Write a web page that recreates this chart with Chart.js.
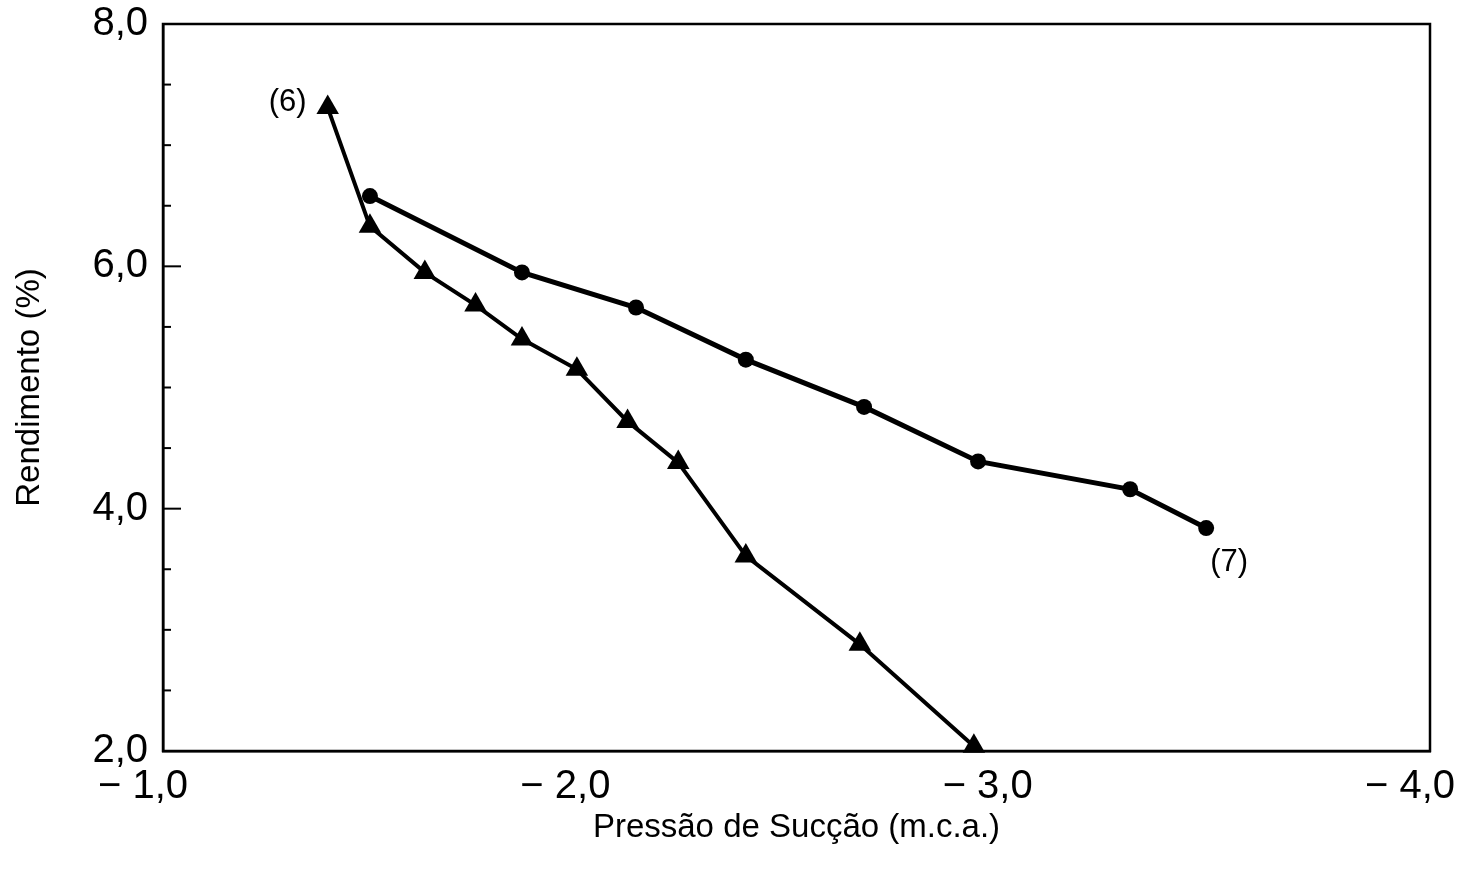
<!DOCTYPE html>
<html>
<head>
<meta charset="utf-8">
<script src="https://cdn.jsdelivr.net/npm/chart.js@4/dist/chart.umd.min.js"></script>
<style>
  html, body { margin: 0; padding: 0; background: #fff; }
  #wrap { position: relative; width: 1466px; height: 869px; }
</style>
</head>
<body>
<div id="wrap"><canvas id="c" width="1466" height="869"></canvas></div>
<script>
// ---- data ----
const triX = [-1.39, -1.49, -1.62, -1.74, -1.85, -1.98, -2.10, -2.22, -2.38, -2.65, -2.92];
const triY = [7.31, 6.33, 5.95, 5.68, 5.40, 5.15, 4.72, 4.38, 3.61, 2.88, 2.04];
const cirX = [-1.49, -1.85, -2.12, -2.38, -2.66, -2.93, -3.29, -3.47];
const cirY = [6.58, 5.95, 5.66, 5.23, 4.84, 4.39, 4.16, 3.84];
const xTickValues = [-1, -2, -3, -4];
const yLabelValues = [2, 4, 6, 8];
const xTitle = 'Pressão de Sucção (m.c.a.)';
const yTitle = 'Rendimento (%)';
const labelTri = '(6)';
const labelCir = '(7)';

const FONT = '"Liberation Sans", Arial, sans-serif';
const fmt = v => v.toFixed(1).replace('.', ',');
const pts = (xs, ys) => xs.map((x, i) => ({ x: x, y: ys[i] }));

const framePlugin = {
  id: 'frame',
  afterDatasetsDraw(chart) {
    const { ctx, chartArea: a, scales } = chart;
    const ys = scales.y;
    ctx.save();
    ctx.strokeStyle = '#000';
    ctx.lineWidth = 2.5;
    ctx.strokeRect(a.left, a.top, a.right - a.left, a.bottom - a.top);
    // inward tick marks on the left axis
    ctx.lineWidth = 2;
    ys.ticks.forEach(t => {
      const py = ys.getPixelForValue(t.value);
      const major = yLabelValues.includes(t.value);
      ctx.beginPath();
      ctx.moveTo(a.left, py);
      ctx.lineTo(a.left + (major ? 18 : 8), py);
      ctx.stroke();
    });
    // point labels
    ctx.fillStyle = '#000';
    ctx.font = '31px ' + FONT;
    ctx.textAlign = 'center';
    ctx.textBaseline = 'middle';
    const m0 = chart.getDatasetMeta(0).data[0];
    ctx.fillText(labelTri, m0.x - 40, m0.y - 5);
    const m1 = chart.getDatasetMeta(1).data[cirX.length - 1];
    ctx.fillText(labelCir, m1.x + 23, m1.y + 34);
    ctx.restore();
  }
};

new Chart(document.getElementById('c'), {
  type: 'scatter',
  data: {
    datasets: [
      {
        label: 'tri',
        data: pts(triX, triY),
        showLine: true,
        borderColor: '#000',
        backgroundColor: '#000',
        borderWidth: 4,
        pointStyle: 'triangle',
        pointRadius: 13,
        pointBorderWidth: 0,
        tension: 0,
        clip: false
      },
      {
        label: 'cir',
        data: pts(cirX, cirY),
        showLine: true,
        borderColor: '#000',
        backgroundColor: '#000',
        borderWidth: 5,
        pointStyle: 'circle',
        pointRadius: 8,
        pointBorderWidth: 0,
        tension: 0,
        clip: false
      }
    ]
  },
  options: {
    responsive: false,
    animation: false,
    devicePixelRatio: 1,
    layout: { padding: { top: 24, right: 36, left: 0, bottom: 0 } },
    plugins: { legend: { display: false }, tooltip: { enabled: false } },
    scales: {
      x: {
        type: 'linear',
        reverse: true,
        min: -4,
        max: -1,
        afterFit(s) { s.height = 118; s.paddingLeft = 0; s.paddingRight = 0; },
        afterBuildTicks(s) { s.ticks = xTickValues.map(v => ({ value: v })); },
        grid: { display: false, drawTicks: false },
        border: { display: true, color: '#000', width: 2.5 },
        ticks: {
          color: '#000',
          font: { family: FONT, size: 40, lineHeight: 1.2 },
          padding: 12,
          labelOffset: -20,
          maxRotation: 0,
          autoSkip: false,
          callback: v => '\u2212 ' + fmt(Math.abs(v))
        },
        title: {
          display: true,
          text: xTitle,
          color: '#000',
          font: { family: FONT, size: 33, lineHeight: 1.2 },
          padding: { top: 0, bottom: 21 }
        }
      },
      y: {
        type: 'linear',
        min: 2,
        max: 8,
        afterFit(s) { s.width = 163; s.paddingTop = 0; s.paddingBottom = 0; },
        grid: { display: false, drawTicks: false },
        border: { display: true, color: '#000', width: 2.5 },
        ticks: {
          stepSize: 0.5,
          autoSkip: false,
          color: '#000',
          font: { family: FONT, size: 40, lineHeight: 1.2 },
          padding: 15,
          callback: v => yLabelValues.includes(v) ? fmt(v) : ''
        },
        title: {
          display: true,
          text: yTitle,
          color: '#000',
          font: { family: FONT, size: 33, lineHeight: 1.2 },
          padding: { top: 10, bottom: 0 }
        }
      }
    }
  },
  plugins: [framePlugin]
});
</script>
</body>
</html>
